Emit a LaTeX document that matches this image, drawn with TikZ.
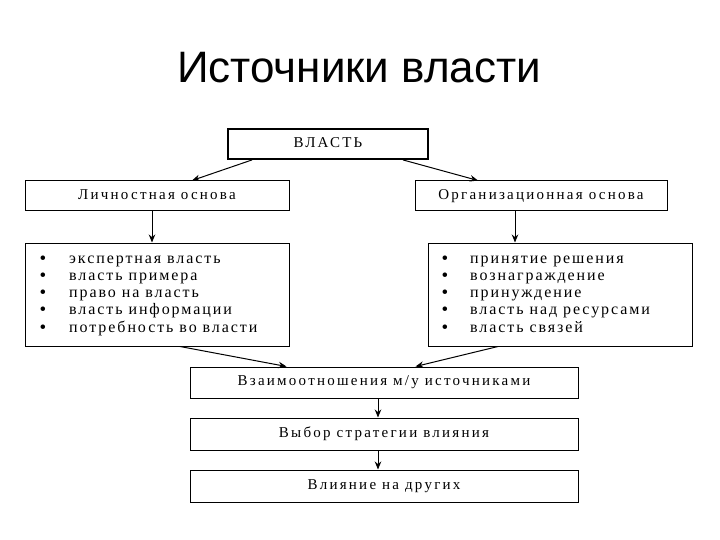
\documentclass[tikz,border=0pt]{standalone}
\usepackage{fontspec}
\setmainfont{Liberation Serif}
\newfontfamily\titlefont{Liberation Sans}
\newfontfamily\boxfont[LetterSpace=15]{Liberation Serif}
\newfontfamily\listfont[LetterSpace=12]{Liberation Serif}
\usetikzlibrary{arrows.meta}
\begin{document}
\begin{tikzpicture}[x=1pt,y=-1pt,
  box/.style={draw=black,line width=1pt,rectangle,inner sep=0pt,font=\boxfont\fontsize{15}{16}\selectfont,text height=10pt,text depth=3.5pt},
  listbox/.style={draw=black,line width=1pt,rectangle,inner sep=0pt},
  item/.style={anchor=base west,inner sep=0pt,font=\listfont\fontsize{16}{17}\selectfont},
  bul/.style={anchor=base,inner sep=0pt,font=\fontsize{19}{20}\selectfont},
  arr/.style={line width=1pt,-{Stealth[length=8pt,width=6.5pt]}}]
\useasboundingbox (0,0) rectangle (720,540);
\node[inner sep=0pt,anchor=base,font=\titlefont\fontsize{44}{48}\selectfont] (title) at (359,83) {Источники власти};
\node[box,line width=1.8pt,minimum width=200pt,minimum height=30pt] (vlast) at (328,144) {ВЛАСТЬ};
\node[box,minimum width=264pt,minimum height=30pt] (lich) at (157,196) {Личностная основа};
\node[box,minimum width=252pt,minimum height=30pt] (org) at (541,196) {Организационная основа};
\node[listbox,minimum width=264pt,minimum height=103pt] (listL) at (157,294.5) {};
\node[listbox,minimum width=264pt,minimum height=103pt] (listR) at (560,294.5) {};
\node[box,minimum width=388pt,minimum height=31pt] (b1) at (384,382.5) {Взаимоотношения м/у источниками};
\node[box,minimum width=388pt,minimum height=32pt] (b2) at (384,434) {Выбор стратегии влияния};
\node[box,minimum width=388pt,minimum height=32pt] (b3) at (384,486) {Влияние на других};
\foreach \t [count=\i] in {экспертная власть,власть примера,право на власть,власть информации,потребность во власти}{
  \node[bul] (bL\i) at (43,{264+17.25*(\i-1)}) {\textbullet};
  \node[item] (tL\i) at (69,{263+17.25*(\i-1)}) {\t};
}
\foreach \t [count=\i] in {принятие решения,вознаграждение,принуждение,власть над ресурсами,власть связей}{
  \node[bul] (bR\i) at (445,{264+17.25*(\i-1)}) {\textbullet};
  \node[item] (tR\i) at (470,{263+17.25*(\i-1)}) {\t};
}
\draw[arr] ([xshift=25pt]vlast.south west) -- ([xshift=35pt]lich.north);
\draw[arr] ([xshift=-26pt]vlast.south east) -- ([xshift=-63pt]org.north);
\draw[arr] ([xshift=-5pt]lich.south) -- ([xshift=-5pt]listL.north);
\draw[arr] ([xshift=-26pt]org.south) -- ([xshift=-26pt]org.south |- listR.north);
\draw[arr] ([xshift=23pt]listL.south) -- ([xshift=97pt]b1.north west);
\draw[arr] ([xshift=-62pt]listR.south) -- ([xshift=-163pt]b1.north east);
\draw[arr] ([xshift=-6pt]b1.south) -- ([xshift=-6pt]b2.north);
\draw[arr] ([xshift=-6pt]b2.south) -- ([xshift=-6pt]b3.north);
\end{tikzpicture}
\end{document}
